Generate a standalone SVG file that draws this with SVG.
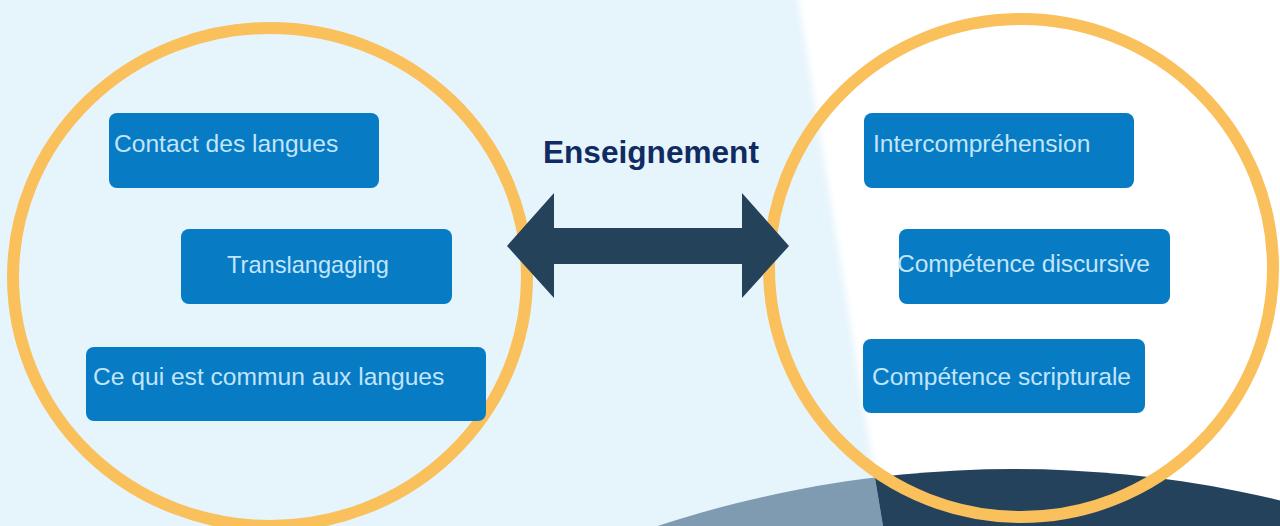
<svg xmlns="http://www.w3.org/2000/svg" width="1280" height="526" viewBox="0 0 1280 526">
  <defs>
    <filter id="soft" x="-10%" y="-10%" width="120%" height="120%">
      <feGaussianBlur stdDeviation="3"/>
    </filter>
    <style>
      .ring { fill: none; stroke: #F9C05B; stroke-width: 12; }
      .box { fill: #077BC4; }
      .label { font-family: "Liberation Sans", Arial, sans-serif; font-size: 24.6px; fill: #C2E5F9; }
      .title { font-family: "Liberation Sans", Arial, sans-serif; font-size: 31.6px; font-weight: bold; fill: #102B62; }
    </style>
  </defs>

  <!-- backdrop: pale blue left panel, white right panel -->
  <rect x="0" y="0" width="1280" height="526" fill="#E6F4FC"/>
  <polygon points="795,-20 1300,-20 1300,546 886,546" fill="#FFFFFF" filter="url(#soft)"/>

  <!-- dome at the bottom, split along the panel edge -->
  <g id="dome">
    <clipPath id="domeLeft"><polygon points="0,0 795,0 883,526 0,526"/></clipPath>
    <clipPath id="domeRight"><polygon points="795,0 1280,0 1280,526 883,526"/></clipPath>
    <circle cx="1014" cy="1612" r="1143" fill="#7F9BB1" clip-path="url(#domeLeft)"/>
    <circle cx="1014" cy="1612" r="1143" fill="#24425B" clip-path="url(#domeRight)"/>
  </g>

  <!-- left group -->
  <g id="ring-left">
    <ellipse class="ring" cx="270" cy="277" rx="257" ry="249"/>
  </g>
  <g id="node-contact">
    <rect class="box" x="109" y="113" width="270" height="75" rx="8"/>
    <text class="label" x="114" y="152">Contact des langues</text>
  </g>
  <g id="node-translangaging">
    <rect class="box" x="181" y="229" width="271" height="75" rx="8"/>
    <text class="label" x="227" y="273" style="font-size:23.6px">Translangaging</text>
  </g>
  <g id="node-commun">
    <rect class="box" x="86" y="347" width="400" height="74" rx="8"/>
    <text class="label" x="93" y="385">Ce qui est commun aux langues</text>
  </g>

  <!-- right group -->
  <g id="ring-right">
    <ellipse class="ring" cx="1021" cy="268" rx="252" ry="249"/>
  </g>
  <g id="node-intercomprehension">
    <rect class="box" x="864" y="113" width="270" height="75" rx="8"/>
    <text class="label" x="873" y="152">Intercompréhension</text>
  </g>
  <g id="node-discursive">
    <rect class="box" x="899" y="229" width="271" height="75" rx="8"/>
    <text class="label" x="897" y="272" textLength="253">Compétence discursive</text>
  </g>
  <g id="node-scripturale">
    <rect class="box" x="863" y="339" width="282" height="74" rx="8"/>
    <text class="label" x="872" y="385" textLength="259">Compétence scripturale</text>
  </g>

  <!-- connector: double-headed block arrow with its label -->
  <g id="connectors">
    <polygon points="507,246 554,193 554,228 742,228 742,193 789,246 742,298 742,264 554,264 554,298" fill="#25425B"/>
    <text class="title" x="543" y="163">Enseignement</text>
  </g>
</svg>
